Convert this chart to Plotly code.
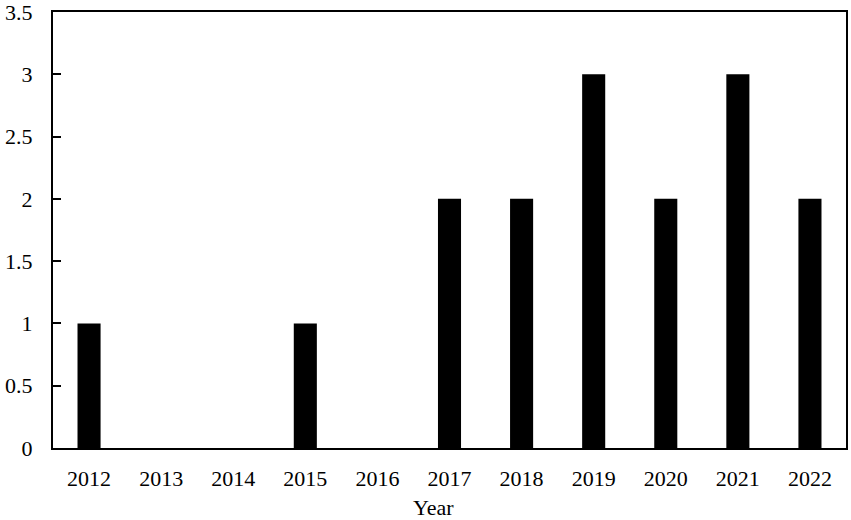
import plotly.graph_objects as go

years = ["2012", "2013", "2014", "2015", "2016", "2017", "2018", "2019", "2020", "2021", "2022"]
counts = [1, 0, 0, 1, 0, 2, 2, 3, 2, 3, 2]
y_ticks = [0, 0.5, 1, 1.5, 2, 2.5, 3, 3.5]
y_tick_labels = ["0", "0.5", "1", "1.5", "2", "2.5", "3", "3.5"]
x_title = "Year"

font = dict(family="Liberation Serif, Times New Roman, serif", size=22, color="black")

fig = go.Figure(go.Bar(x=years, y=counts, marker=dict(color="black", line=dict(width=0))))

fig.update_layout(
    width=851, height=520,
    margin=dict(l=53, r=5, t=12, b=72),
    paper_bgcolor="white", plot_bgcolor="white",
    font=font,
    bargap=0.68,
    showlegend=False,
    annotations=[dict(
        text=x_title, xref="paper", yref="paper", x=0.48, y=0,
        xanchor="center", yanchor="top", yshift=-45,
        showarrow=False, font=font,
    )],
)
fig.update_xaxes(
    type="category", automargin=False,
    showline=True, linecolor="black", linewidth=2, mirror=True,
    ticks="", showgrid=False,
    ticklabelstandoff=10,
)
fig.update_yaxes(
    range=[0, 3.5], automargin=False,
    tickvals=y_ticks, ticktext=y_tick_labels,
    showline=True, linecolor="black", linewidth=2, mirror=True,
    ticks="inside", ticklen=8, tickwidth=2, tickcolor="black",
    showgrid=False, zeroline=False,
    ticklabelstandoff=14, ticklabeloverflow="allow",
)

fig.write_html("out.html", config={"displayModeBar": False},
               post_script="document.body.style.margin='0';")
